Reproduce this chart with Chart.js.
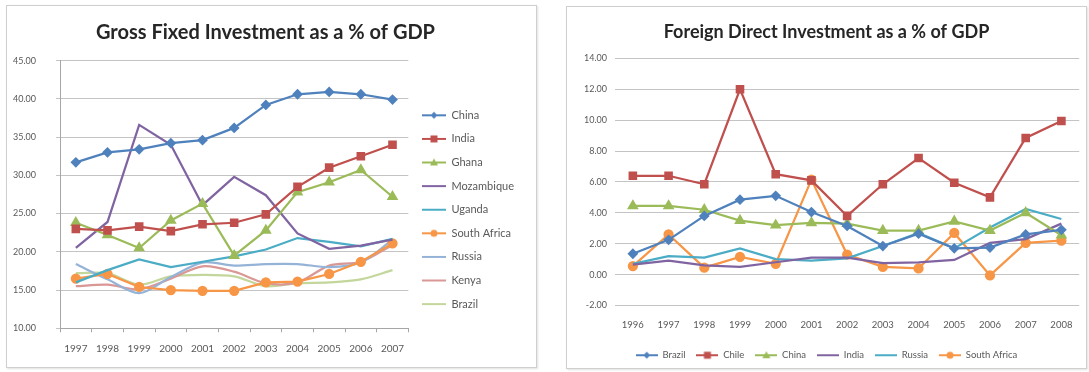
<!DOCTYPE html>
<html lang="en">
<head>
<meta charset="UTF-8" />
<title>Investment as a % of GDP</title>
<script src="https://cdn.jsdelivr.net/npm/chart.js"></script>
<style>
  body { margin: 0; background: #fff; width: 1089px; height: 372px; position: relative; overflow: hidden; }
  .box { position: absolute; border: 1px solid #cfcfcf; box-shadow: 1px 1px 2px rgba(0,0,0,0.12); background: #fff; }
  #box1 { left: 6px; top: 5px; width: 529px; height: 361px; }
  #box2 { left: 566px; top: 6px; width: 519px; height: 361px; }
  canvas { display: block; }
</style>
</head>
<body>
  <div class="box" id="box1"><canvas id="gfiChart" width="529" height="361"></canvas></div>
  <div class="box" id="box2"><canvas id="fdiChart" width="519" height="361"></canvas></div>

<script>
// Gross fixed investment (% of GDP), 1997-2007
const gfiYears = ['1997', '1998', '1999', '2000', '2001', '2002', '2003', '2004', '2005', '2006', '2007'];
const gfiChina = [31.7, 33.0, 33.4, 34.2, 34.6, 36.2, 39.2, 40.6, 40.9, 40.6, 39.9];
const gfiIndia = [23.0, 22.8, 23.3, 22.7, 23.6, 23.8, 24.9, 28.5, 31.0, 32.5, 34.0];
const gfiGhana = [23.8, 22.2, 20.5, 24.1, 26.3, 19.5, 22.8, 27.8, 29.1, 30.7, 27.2];
const gfiMozambique = [20.5, 23.9, 36.6, 34.0, 26.1, 29.8, 27.4, 22.4, 20.4, 20.8, 21.6];
const gfiUganda = [16.0, 17.6, 19.0, 18.0, 18.7, 19.4, 20.3, 21.8, 21.3, 20.7, 21.7];
const gfiSouthAfrica = [16.5, 17.1, 15.4, 15.0, 14.9, 14.9, 16.0, 16.1, 17.1, 18.7, 21.1];
const gfiRussia = [18.4, 16.4, 14.6, 16.7, 18.6, 18.2, 18.4, 18.4, 18.0, 18.6, 21.6];
const gfiKenya = [15.5, 15.7, 15.1, 16.5, 18.1, 17.4, 15.9, 16.0, 18.2, 18.7, 20.9];
const gfiBrazil = [17.2, 17.2, 15.7, 16.8, 17.0, 16.8, 15.5, 15.9, 16.0, 16.4, 17.6];
const gfiTicks = [10, 15, 20, 25, 30, 35, 40, 45];

// Foreign direct investment (% of GDP), 1996-2008
const fdiYears = ['1996', '1997', '1998', '1999', '2000', '2001', '2002', '2003', '2004', '2005', '2006', '2007', '2008'];
const fdiBrazil = [1.35, 2.25, 3.8, 4.85, 5.1, 4.05, 3.15, 1.85, 2.65, 1.7, 1.75, 2.6, 2.9];
const fdiChile = [6.4, 6.4, 5.85, 12.0, 6.5, 6.1, 3.8, 5.85, 7.55, 5.95, 5.0, 8.85, 9.95];
const fdiChina = [4.45, 4.45, 4.2, 3.5, 3.2, 3.35, 3.3, 2.85, 2.85, 3.45, 2.85, 4.0, 2.55];
const fdiIndia = [0.65, 0.9, 0.6, 0.5, 0.8, 1.1, 1.1, 0.75, 0.8, 0.95, 2.05, 2.3, 3.3];
const fdiRussia = [0.7, 1.2, 1.1, 1.7, 1.0, 0.9, 1.05, 1.85, 2.7, 1.7, 3.05, 4.25, 3.6];
const fdiSouthAfrica = [0.55, 2.6, 0.45, 1.15, 0.7, 6.15, 1.3, 0.5, 0.4, 2.7, -0.05, 2.05, 2.2];

const FONT = 'Lato, "Open Sans", "Liberation Sans", sans-serif';
const TEXT = '#595959';

// small legend picture: a line with the series marker in the middle
function legendIcon(color, marker, width, lineStart) {
  const c = document.createElement('canvas');
  c.width = width; c.height = 12;
  const ctx = c.getContext('2d');
  ctx.strokeStyle = color;
  ctx.fillStyle = color;
  ctx.lineWidth = 2;
  ctx.beginPath();
  ctx.moveTo(lineStart, 6);
  ctx.lineTo(width, 6);
  ctx.stroke();
  const cx = lineStart + (width - lineStart) / 2;
  ctx.beginPath();
  if (marker === 'rectRot') {
    ctx.moveTo(cx, 2.5); ctx.lineTo(cx + 3.5, 6); ctx.lineTo(cx, 9.5); ctx.lineTo(cx - 3.5, 6);
  } else if (marker === 'rect') {
    ctx.rect(cx - 3.5, 2.5, 7, 7);
  } else if (marker === 'triangle') {
    ctx.moveTo(cx, 2); ctx.lineTo(cx + 4, 9); ctx.lineTo(cx - 4, 9);
  } else if (marker === 'circle') {
    ctx.arc(cx, 6, 3.5, 0, Math.PI * 2);
  }
  ctx.closePath();
  if (marker) ctx.fill();
  return c;
}

function series(label, data, color, marker, radius, tension) {
  return {
    label,
    data,
    borderColor: color,
    backgroundColor: color,
    borderWidth: 2.25,
    pointStyle: marker || 'circle',
    pointRadius: marker ? radius : 0,
    pointHoverRadius: marker ? radius : 0,
    tension: tension || 0,
    fill: false,
    marker
  };
}

function legendWithIcons(width, lineStart) {
  return chart => chart.data.datasets.map((ds, i) => ({
    text: ds.label,
    datasetIndex: i,
    hidden: false,
    fontColor: TEXT,
    lineWidth: 0,
    strokeStyle: ds.borderColor,
    fillStyle: ds.borderColor,
    pointStyle: legendIcon(ds.borderColor, ds.marker, width, lineStart)
  }));
}

new Chart(document.getElementById('gfiChart'), {
  type: 'line',
  data: {
    labels: gfiYears,
    datasets: [
      series('China', gfiChina, '#4F81BD', 'rectRot', 3.8),
      series('India', gfiIndia, '#C0504D', 'rect', 4.5),
      series('Ghana', gfiGhana, '#9BBB59', 'triangle', 4.5),
      series('Mozambique', gfiMozambique, '#8064A2'),
      series('Uganda', gfiUganda, '#4BACC6'),
      series('South Africa', gfiSouthAfrica, '#F79646', 'circle', 4),
      series('Russia', gfiRussia, '#95B3D7', null, 0, 0.3),
      series('Kenya', gfiKenya, '#D99795', null, 0, 0.3),
      series('Brazil', gfiBrazil, '#C3D69B', null, 0, 0.3)
    ]
  },
  options: {
    responsive: false,
    animation: false,
    layout: { padding: { left: 0, right: 12, top: 0, bottom: 0 } },
    plugins: {
      title: {
        display: true,
        text: 'Gross Fixed Investment as a % of GDP',
        color: '#262626',
        font: { family: FONT, size: 20, weight: 'bold' },
        padding: { top: 14.2, bottom: 16.4 }
      },
      legend: {
        position: 'right',
        align: 'start',
        title: { display: true, text: '', font: { size: 1 }, padding: { top: 90, bottom: 0 } },
        labels: {
          usePointStyle: true,
          pointStyleWidth: 25,
          padding: 12.6,
          color: TEXT,
          font: { family: FONT, size: 11 },
          generateLabels: legendWithIcons(25, 1)
        }
      },
      tooltip: { enabled: false }
    },
    scales: {
      x: {
        offset: true,
        grid: { offset: true, drawOnChartArea: false, drawTicks: true, tickLength: 4, color: '#a6a6a6' },
        border: { color: '#a6a6a6' },
        ticks: { color: TEXT, font: { family: FONT, size: 10 }, padding: 10, maxRotation: 0 },
        afterFit: s => { s.height = 38.7; }
      },
      y: {
        min: 10,
        max: 45,
        afterBuildTicks: s => { s.ticks = gfiTicks.map(v => ({ value: v })); },
        grid: { color: '#c4c4c4', tickLength: 4 },
        border: { color: '#a6a6a6' },
        ticks: { color: TEXT, font: { family: FONT, size: 9 }, padding: 20, callback: v => v.toFixed(2) },
        afterFit: s => { s.width = 53; }
      }
    }
  }
});

new Chart(document.getElementById('fdiChart'), {
  type: 'line',
  data: {
    labels: fdiYears,
    datasets: [
      series('Brazil', fdiBrazil, '#4F81BD', 'rectRot', 3.8),
      series('Chile', fdiChile, '#C0504D', 'rect', 4.5),
      series('China', fdiChina, '#9BBB59', 'triangle', 4.5),
      series('India', fdiIndia, '#8064A2'),
      series('Russia', fdiRussia, '#4BACC6'),
      series('South Africa', fdiSouthAfrica, '#F79646', 'circle', 4)
    ]
  },
  options: {
    responsive: false,
    animation: false,
    layout: { padding: { left: 0, right: 0, top: 0, bottom: -2 } },
    plugins: {
      title: {
        display: true,
        text: 'Foreign Direct Investment as a % of GDP',
        color: '#262626',
        font: { family: FONT, size: 18, weight: 'bold' },
        padding: { top: 14.5, bottom: 15.3 }
      },
      legend: {
        position: 'bottom',
        labels: {
          usePointStyle: true,
          pointStyleWidth: 22,
          padding: 11,
          color: TEXT,
          font: { family: FONT, size: 9.5 },
          generateLabels: legendWithIcons(22, 0)
        }
      },
      tooltip: { enabled: false }
    },
    scales: {
      x: {
        offset: true,
        grid: { display: false },
        border: { display: false },
        ticks: { color: TEXT, font: { family: FONT, size: 9.5 }, padding: 6, maxRotation: 0 },
        afterFit: s => { s.height = 34; }
      },
      y: {
        min: -2,
        max: 14,
        ticks: { stepSize: 2, color: TEXT, font: { family: FONT, size: 9 }, padding: 8, callback: v => v.toFixed(2) },
        grid: { color: '#c4c4c4', drawTicks: false },
        border: { display: false },
        afterFit: s => { s.width = 48; }
      }
    }
  }
});
</script>
</body>
</html>
